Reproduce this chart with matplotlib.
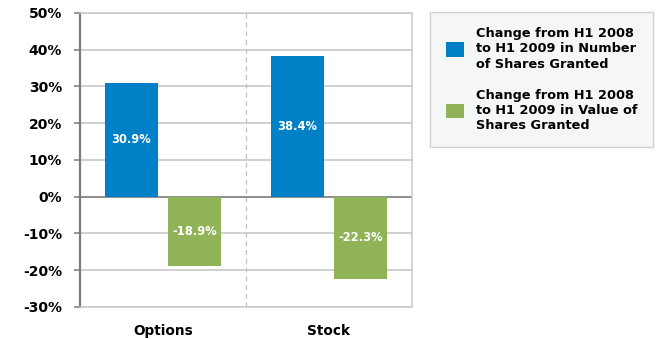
import matplotlib
matplotlib.use('Agg')
import numpy as np
import matplotlib.pyplot as plt
from matplotlib.ticker import FuncFormatter

categories = ['Options', 'Stock']
number_change = [30.9, 38.4]
value_change = [-18.9, -22.3]
series_labels = ['Change from H1 2008\nto H1 2009 in Number\nof Shares Granted',
                 'Change from H1 2008\nto H1 2009 in Value of\nShares Granted']
yticks = [-30, -20, -10, 0, 10, 20, 30, 40, 50]

blue = '#0080c6'
green = '#8fb356'

plt.rcParams['font.family'] = ['DejaVu Sans']

fig = plt.figure(figsize=(6.59, 3.39), dpi=100)
ax = fig.add_axes([0.1214, 0.0944, 0.5036, 0.8673])

x = np.arange(len(categories))
w = 0.32
b1 = ax.bar(x - 0.19, number_change, w, color=blue, label=series_labels[0], zorder=3)
b2 = ax.bar(x + 0.19, value_change, w, color=green, label=series_labels[1], zorder=3)

for bars, vals in ((b1, number_change), (b2, value_change)):
    for bar, v in zip(bars, vals):
        ax.text(bar.get_x() + bar.get_width() / 2, v / 2, '%.1f%%' % v,
                ha='center', va='center', color='white', fontsize=8.3,
                fontweight='bold', zorder=4)

ax.set_xlim(-0.5, 1.5)
ax.set_ylim(-30, 50)
ax.set_yticks(yticks)
ax.yaxis.set_major_formatter(FuncFormatter(lambda v, p: '%d%%' % v))
ax.set_xticks(x)
ax.set_xticklabels(categories)
ax.yaxis.grid(True, color='#c4c4c4', lw=1.1, zorder=0)
ax.axhline(0, color='#8a8a8a', lw=1.3, zorder=2)
ax.axvline(0.5, color='#c0c0c0', lw=0.9, ls=(0, (4, 3)), zorder=1)

for side in ('top', 'right', 'bottom'):
    ax.spines[side].set_color('#c8c8c8')
    ax.spines[side].set_linewidth(1.1)
ax.spines['left'].set_color('#7a7a7a')
ax.spines['left'].set_linewidth(1.6)

ax.tick_params(axis='y', length=4, width=1.1, color='#7a7a7a', pad=9,
               labelsize=10)
ax.tick_params(axis='x', length=0, pad=12, labelsize=9.8)
for lbl in ax.get_yticklabels() + ax.get_xticklabels():
    lbl.set_fontweight('bold')

leg = fig.legend(handles=[b1, b2], loc='upper left',
                 bbox_to_anchor=(430 / 659, 1 - 12 / 339), borderaxespad=0,
                 frameon=True, fancybox=False, facecolor='#f3f4f4',
                 edgecolor='#c8c8c8', handlelength=1.45, handleheight=1.35,
                 handletextpad=0.9, labelspacing=1.4, borderpad=1.2,
                 prop={'weight': 'bold', 'size': 9.3})
leg.get_frame().set_linewidth(1.0)
for t in leg.get_texts():
    t.set_linespacing(1.2)

plt.savefig('out.png', dpi=100)
